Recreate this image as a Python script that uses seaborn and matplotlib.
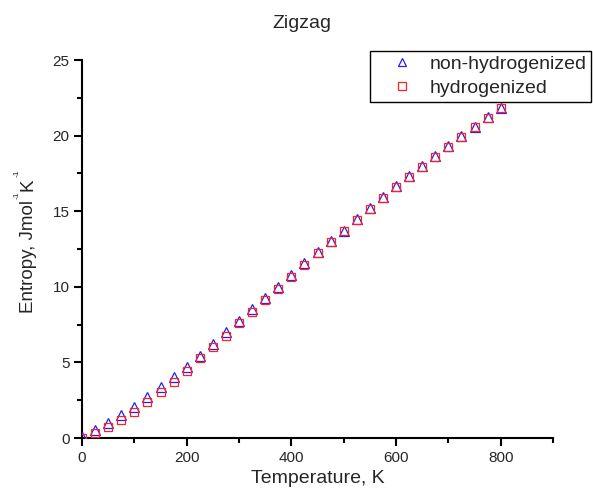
import numpy as np
import pandas as pd
import matplotlib
matplotlib.use("Agg")
import matplotlib.pyplot as plt
import seaborn as sns
from matplotlib.ticker import MultipleLocator
from matplotlib.transforms import IdentityTransform

# Temperature grid (K) and entropy values (J mol^-1 K^-1)
temperature = [0, 25, 50, 75, 100, 125, 150, 175, 200, 225, 250, 275, 300,
               325, 350, 375, 400, 425, 450, 475, 500, 525, 550, 575, 600,
               625, 650, 675, 700, 725, 750, 775, 800]
non_hydrogenized = [0.08, 0.53, 1.01, 1.52, 2.07, 2.73, 3.39, 4.05, 4.72, 5.42,
                    6.19, 6.99, 7.76, 8.53, 9.28, 10.00, 10.78, 11.55, 12.32,
                    13.03, 13.72, 14.48, 15.21, 15.92, 16.64, 17.30, 17.96,
                    18.62, 19.29, 19.95, 20.57, 21.20, 21.83]
hydrogenized = [0.03, 0.31, 0.75, 1.19, 1.74, 2.40, 3.02, 3.72, 4.45, 5.27,
                6.00, 6.77, 7.58, 8.36, 9.13, 9.85, 10.63, 11.44, 12.21,
                12.94, 13.66, 14.44, 15.17, 15.88, 16.60, 17.27, 17.93,
                18.59, 19.26, 19.92, 20.54, 21.17, 21.80]
series_names = ["non-hydrogenized", "hydrogenized"]

df = pd.DataFrame({
    "T": temperature * 2,
    "S": non_hydrogenized + hydrogenized,
    "series": [series_names[0]] * len(temperature) + [series_names[1]] * len(temperature),
})

sns.set_style("ticks")
plt.rcParams["font.family"] = ["Liberation Sans", "DejaVu Sans"]

W, H = 593, 498
fig = plt.figure(figsize=(W / 100, H / 100), dpi=100)
ax = fig.add_axes([82 / W, 1 - 438 / H, (553 - 82) / W, (438 - 60) / H])

styles = {
    "non-hydrogenized": dict(marker="^", color="#2020ff", ms=7.5),
    "hydrogenized": dict(marker="s", color="#ff2020", ms=6.3),
}
handles = []
for name in series_names:
    st = styles[name]
    sub = df[df["series"] == name]
    sns.lineplot(data=sub, x="T", y="S", ax=ax, linestyle="none",
                 marker=st["marker"], markersize=st["ms"],
                 markerfacecolor="none", markeredgecolor=st["color"],
                 markeredgewidth=0.9, label=name, legend=False, zorder=3)
    handles.append(ax.lines[-1])

ax.set_xlim(0, 900)
ax.set_ylim(0, 25)
ax.xaxis.set_major_locator(MultipleLocator(200))
ax.xaxis.set_minor_locator(MultipleLocator(100))
ax.yaxis.set_major_locator(MultipleLocator(5))
ax.yaxis.set_minor_locator(MultipleLocator(2.5))

for side in ["top", "right"]:
    ax.spines[side].set_visible(False)
for side in ["left", "bottom"]:
    ax.spines[side].set_linewidth(1.5)
    ax.spines[side].set_color("black")

ax.tick_params(which="major", direction="out", length=6, width=1.5,
               labelsize=11, color="black", pad=3)
ax.tick_params(which="minor", direction="out", length=3.5, width=1.5,
               color="black")

ax.set_xlabel("Temperature, K", fontsize=14, labelpad=4)
ax.set_ylabel("")

# Rotated y label assembled from runs so the unit exponents stay small
renderer = fig.canvas.get_renderer()
y_cur = H - 313
base_x = 33
label_runs = [("Entropy, Jmol", 13.5, 0), ("-1", 6.0, 14.5),
              ("K", 13.5, 0), ("-1", 6.0, 14.5)]
for text, size, lift in label_runs:
    t = fig.text(base_x - lift, y_cur, text, rotation=90, rotation_mode="anchor",
                 ha="left", va="baseline", fontsize=size,
                 transform=IdentityTransform())
    y_cur += t.get_window_extent(renderer).height + 1

fig.text(302 / W, 1 - 23 / H, "Zigzag", ha="center", va="center", fontsize=14)

leg = fig.legend(handles=handles, labels=series_names, loc="upper right",
                 bbox_to_anchor=(591 / W, 1 - 51 / H),
                 bbox_transform=fig.transFigure, borderaxespad=0,
                 fontsize=14, frameon=True, fancybox=False,
                 edgecolor="black", framealpha=1, borderpad=0.22,
                 labelspacing=0.35, handletextpad=0.05, handlelength=2.8,
                 markerscale=0.85)
leg.get_frame().set_linewidth(1.0)

fig.savefig("out.png", dpi=100)
